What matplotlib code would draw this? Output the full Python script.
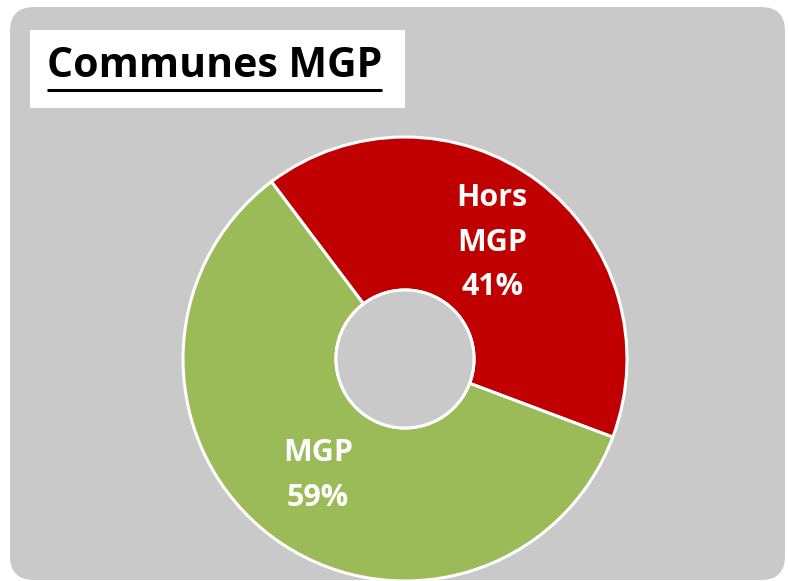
import numpy as np, matplotlib
matplotlib.use("Agg")
import matplotlib.pyplot as plt
from matplotlib.patches import FancyBboxPatch, Rectangle

labels = ["Hors MGP", "MGP"]
shares = [41, 59]
colors = ["#C00000", "#9BBB59"]
title = "Communes MGP"

W, H = 788, 581
BG = "#C9C9C9"
FONT = "Open Sans"

fig = plt.figure(figsize=(W / 100, H / 100), dpi=100)
ax = fig.add_axes([0, 0, 1, 1])

# pixel-like coordinates, y measured from bottom
def py(y):
    return H - y

ax.add_patch(FancyBboxPatch((10, py(580)), 775, 573,
                            boxstyle="round,pad=0,rounding_size=24",
                            facecolor=BG, edgecolor="none", zorder=0))
ax.add_patch(Rectangle((30, py(108)), 375, 78, facecolor="white",
                       edgecolor="none", zorder=1))

names = iter(["Hors\nMGP", "MGP"])
wedges, texts, autotexts = ax.pie(
    shares, colors=colors, startangle=127, counterclock=False,
    center=(405, py(359)), radius=222,
    wedgeprops=dict(width=153, edgecolor="white", linewidth=2.2),
    autopct=lambda p: f"{next(names)}\n{p:.0f}%", pctdistance=0.655,
    textprops=dict(color="white", fontsize=22, fontweight="bold",
                   family=FONT, linespacing=1.62))
# inner hole shows the grey background with a white ring
ax.add_patch(plt.Circle((405, py(359)), 69, facecolor=BG, edgecolor="white",
                        linewidth=2.2, zorder=3))

ax.set_xlim(0, W)
ax.set_ylim(0, H)
ax.set_aspect("auto")
ax.axis("off")

t = ax.text(47, py(77), title, fontsize=29.5, fontweight="bold", family=FONT,
            color="black", ha="left", va="baseline", zorder=4)
fig.canvas.draw()
bb = t.get_window_extent().transformed(ax.transData.inverted())
ax.plot([bb.x0, bb.x1], [py(90), py(90)], color="black", lw=2.2, zorder=4,
        solid_capstyle="butt")

fig.patch.set_facecolor("white")
fig.savefig("out.png", dpi=100)
